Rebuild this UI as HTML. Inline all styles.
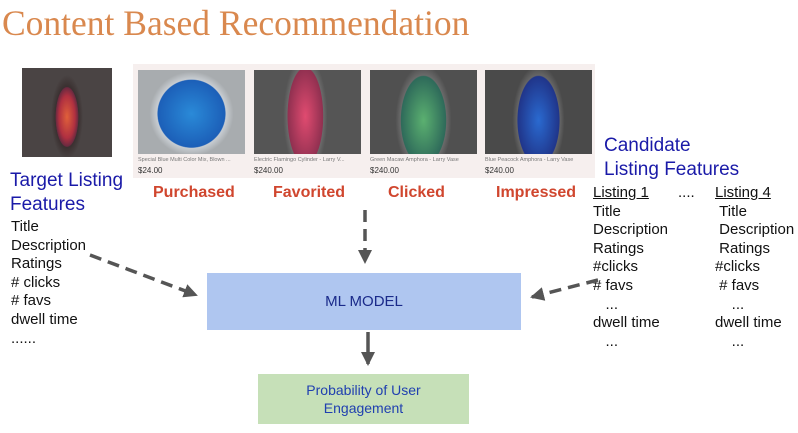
<!DOCTYPE html>
<html><head><style>
body{margin:0;width:798px;height:433px;background:#fff;position:relative;overflow:hidden;font-family:"Liberation Sans",sans-serif}
.a{position:absolute;white-space:nowrap}
.t{font-size:15px;color:#111;line-height:18.6px}
.r{font-size:16px;font-weight:bold;color:#d0462e}
.b{color:#1a1aa8;font-size:19px;line-height:24px}
.card{position:absolute;top:70px;width:107px;height:84px}
.cap{position:absolute;font-size:5.5px;color:#777;top:157px}
.pr{position:absolute;font-size:8px;color:#333;top:166px}
</style></head><body>
<div class="a" style="left:2px;top:2px;font-family:'Liberation Serif',serif;font-size:35.5px;color:#d9884e">Content Based Recommendation</div>
<div class="a" style="left:22px;top:68px;width:90px;height:89px;background:radial-gradient(ellipse 16px 42px at 50% 55%,#e0603a,#b03040 50%,#6a2a40 70%,#3a3030 72%,#4a4444)"></div>
<div class="a" style="left:133px;top:64px;width:462px;height:114px;background:#f6efee"></div>
<div class="card" style="left:138px;background:radial-gradient(circle 42px at 50% 52%,#2a8ad8,#1c5fb8 80%,#c8cdd2 82%,#a8acaf)"></div>
<div class="card" style="left:254px;background:radial-gradient(ellipse 22px 60px at 48% 55%,#e04b70,#903050 80%,#6a6a6a 82%,#555)"></div>
<div class="card" style="left:370px;background:radial-gradient(ellipse 28px 55px at 50% 60%,#5bb070,#2e6a5a 80%,#6a6a6a 82%,#505050)"></div>
<div class="card" style="left:485px;background:radial-gradient(ellipse 26px 55px at 50% 60%,#2a6ad0,#20358a 80%,#666 82%,#4a4a4a)"></div>
<div class="cap" style="left:138px">Special Blue Multi Color Mix, Blown ...</div><div class="pr" style="left:138px">$24.00</div>
<div class="cap" style="left:254px">Electric Flamingo Cylinder - Larry V...</div><div class="pr" style="left:254px">$240.00</div>
<div class="cap" style="left:370px">Green Macaw Amphora - Larry Vase</div><div class="pr" style="left:370px">$240.00</div>
<div class="cap" style="left:485px">Blue Peacock Amphora - Larry Vase</div><div class="pr" style="left:485px">$240.00</div>
<div class="a r" style="left:153px;top:184px">Purchased</div>
<div class="a r" style="left:273px;top:184px">Favorited</div>
<div class="a r" style="left:388px;top:184px">Clicked</div>
<div class="a r" style="left:496px;top:184px">Impressed</div>
<div class="a b" style="left:10px;top:169px">Target Listing<br>Features</div>
<div class="a t" style="left:11px;top:218px">Title<br>Description<br>Ratings<br># clicks<br># favs<br>dwell time<br>......</div>
<div class="a b" style="left:604px;top:134px">Candidate<br>Listing Features</div>
<div class="a t" style="left:593px;top:184px"><u>Listing 1</u><br>Title<br>Description<br>Ratings<br>#clicks<br># favs<br>&nbsp;&nbsp;&nbsp;...<br>dwell time<br>&nbsp;&nbsp;&nbsp;...</div>
<div class="a t" style="left:678px;top:184px">....</div>
<div class="a t" style="left:715px;top:184px"><u>Listing 4</u><br>&nbsp;Title<br>&nbsp;Description<br>&nbsp;Ratings<br>#clicks<br>&nbsp;# favs<br>&nbsp;&nbsp;&nbsp;&nbsp;...<br>dwell time<br>&nbsp;&nbsp;&nbsp;&nbsp;...</div>
<div class="a" style="left:207px;top:273px;width:314px;height:57px;background:#afc6f0;display:flex;align-items:center;justify-content:center;font-size:15px;color:#1a2a8a">ML MODEL</div>
<div class="a" style="left:258px;top:374px;width:211px;height:50px;background:#c6e0b8;display:flex;align-items:center;justify-content:center;text-align:center;font-size:14px;color:#2040b0;line-height:18px">Probability of User<br>Engagement</div>
<svg class="a" style="left:0;top:0" width="798" height="433">
<defs><marker id="h" markerWidth="14" markerHeight="14" refX="12" refY="7" orient="auto" markerUnits="userSpaceOnUse"><path d="M0,0L14,7L0,14z" fill="#555"/></marker></defs>
<g stroke="#555" stroke-width="3.5" fill="none">
<path d="M90,255L196,295" stroke-dasharray="12,7" marker-end="url(#h)"/>
<path d="M365,210L365,262" stroke-dasharray="12,7" marker-end="url(#h)"/>
<path d="M598,280L532,297" stroke-dasharray="12,7" marker-end="url(#h)"/>
<path d="M368,332L368,364" marker-end="url(#h)"/>
</g></svg>
</body></html>
